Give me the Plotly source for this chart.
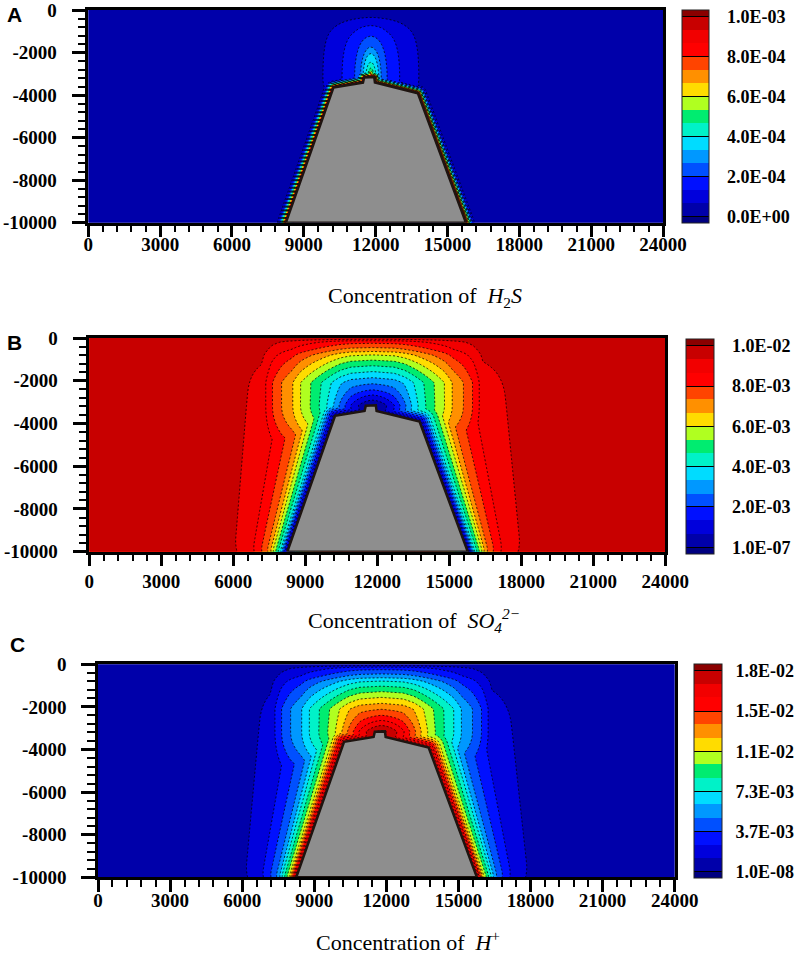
import numpy as np
import plotly.graph_objects as go

# ------------------------------------------------------------------ data
x_tick_vals = [0, 3000, 6000, 9000, 12000, 15000, 18000, 21000, 24000]
x_tick_text = ["0", "3000", "6000", "9000", "12000", "15000", "18000", "21000", "24000"]
x_minor_vals = [v for v in range(0, 24001, 600) if v % 3000 != 0]
y_tick_vals = [0, -2000, -4000, -6000, -8000, -10000]
y_tick_text = ["0", "-2000", "-4000", "-6000", "-8000", "-10000"]
y_minor_vals = [v for v in range(-10000, 1, 400) if v % 2000 != 0]

# mound outline (bottom-left -> crest -> bottom-right), metres
mound_x = [8250, 10240, 11470, 11520, 11940, 11970, 13760, 15770]
mound_y = [-10000, -3640, -3410, -3170, -3150, -3410, -3910, -10000]

# transect along the base (y=-10000): distance from flank (m) vs relative change
base_dist = [0, 140, 280, 415, 580, 720, 900, 1180, 1520, 2000, 2880, 4320]
base_frac = [1.0, 0.8, 0.6, 0.5, 0.4, 0.3, 0.23, 0.17, 0.1, 0.067, 0.02, 0.0]

# vertical transect above the crest (x ~ 11800): depth (m) vs relative change
crest_y = [-3150, -2430, -1580, -1170, -800, -560, -170, 0]
crest_frac = [1.0, 0.8, 0.6, 0.5, 0.4, 0.3, 0.17, 0.0]

# horizontal transect at y=-2000: offset from crest axis (m) vs share of axis value
lat_dx = [0, 900, 1340, 1760, 2170, 2590, 3000, 3350, 3770, 4180, 4710, 5500]
lat_frac = [1.0, 0.97, 0.91, 0.82, 0.73, 0.64, 0.55, 0.45, 0.37, 0.27, 0.09, 0.0]

# H2S: thin rim along the flanks (distance m vs fraction of max)
rim_dist = [0, 70, 140, 210, 280, 350, 420]
rim_frac = [1.0, 0.75, 0.5, 0.3, 0.15, 0.06, 0.0]

# H2S: plume above the crest (scaled radius m vs fraction of max)
plume_r = [0, 30, 60, 90, 130, 200, 300, 400, 550, 700, 900, 1200, 1600, 2000, 2600, 3400]
plume_frac = [1.0, 0.78, 0.6, 0.5, 0.44, 0.39, 0.34, 0.27, 0.22, 0.19, 0.16, 0.13, 0.095, 0.065, 0.03, 0.0]
crest_center_x = 11800

# colour levels (min, max) and colour-bar labels
range_A = (0.0, 1.0e-3)
range_B = (1.0e-7, 1.0e-2)
range_C = (1.0e-8, 1.83e-2)
cb_text_A = ["0.0E+00", "2.0E-04", "4.0E-04", "6.0E-04", "8.0E-04", "1.0E-03"]
cb_text_B = ["1.0E-07", "2.0E-03", "4.0E-03", "6.0E-03", "8.0E-03", "1.0E-02"]
cb_text_C = ["1.0E-08", "3.7E-03", "7.3E-03", "1.1E-02", "1.5E-02", "1.8E-02"]

band_colors = ["#000080", "#0000AA", "#0000DC", "#0010FF", "#0050FF", "#0098FF",
               "#00DCFF", "#00F2C8", "#00EC70", "#B0FF20", "#FFDC00", "#FF9000",
               "#FF4400", "#FF0000", "#F20000", "#C80000", "#8A0000"]

# ------------------------------------------------------------------ field
gx = np.arange(0, 24001, 50, dtype=float)
gy = np.arange(-10000, 1, 50, dtype=float)
X, Y = np.meshgrid(gx, gy)


def min_dist(px, py, vx, vy):
    d = np.full(px.shape, np.inf)
    for i in range(len(vx) - 1):
        ax, ay, bx, by = vx[i], vy[i], vx[i + 1], vy[i + 1]
        ex, ey = bx - ax, by - ay
        t = np.clip(((px - ax) * ex + (py - ay) * ey) / (ex * ex + ey * ey), 0, 1)
        d = np.minimum(d, np.hypot(px - (ax + t * ex), py - (ay + t * ey)))
    return d


mx, my = np.array(mound_x, float), np.array(mound_y, float)
y_top = my.max()
d_true = min_dist(X, Y, mx, my)
dxc = np.abs(X - crest_center_x)

# SO4 / H+ : flank band widening upwards + arch above the crest
L0, KL, LT = 720.0, 0.079, 810.0
Lx = L0 + KL * (Y + 10000.0)
g_side = np.interp(d_true / Lx, np.array(base_dist) / L0, base_frac) * np.tanh(-Y / LT)
below = np.where(Y < y_top, np.exp(-((Y - y_top) / 2500.0) ** 2), 1.0)
axis_val = np.interp(Y, crest_y, crest_frac)
broad = np.minimum(axis_val, 0.72)
narrow = axis_val - broad
g_arch = (broad * np.interp(dxc, lat_dx, lat_frac)
          + narrow * np.exp(-0.5 * (dxc / 900.0) ** 2)) * below
g_bc = np.maximum(g_side, g_arch)

zB = np.maximum(0.995e-2 * (1 - g_bc), range_B[0] + 1e-6)
zC = range_C[0] + 1e-6 + 1.85e-2 * g_bc

# H2S : thin rim + plume over the crest
g_rim = np.interp(d_true, rim_dist, rim_frac)
v = Y - y_top
av = np.where(v > 0, 3.5, 1.0)
r = np.hypot(dxc, v / av)
g_pl = np.interp(r, plume_r, plume_frac) * np.tanh(-Y / 900.0)
zA = 1e-8 + 1.03e-3 * np.maximum(g_rim, g_pl)

# ------------------------------------------------------------------ figure
W, H = 796, 956
n = len(band_colors) - 1
cscale = [[k / n, c] for k, c in enumerate(band_colors)]

panels = [
    dict(z=zA, rng=range_A, txt=cb_text_A, xd=(88.3, 663.0), yd=(10.0, 222.7),
         cb=(681.7, 10.0, 213, 27), xstand=-9, gap=3),
    dict(z=zB, rng=range_B, txt=cb_text_B, xd=(89.3, 665.3), yd=(338.0, 551.7),
         cb=(686.0, 339.0, 215, 28), xstand=-1, gap=3),
    dict(z=zC, rng=range_C, txt=cb_text_C, xd=(98.0, 674.7), yd=(664.3, 877.3),
         cb=(694.0, 664.3, 214, 28), xstand=-8, gap=2),
]

fig = go.Figure()
tickfont = dict(family="Liberation Serif", size=19, color="black", weight="bold")
layout = dict(width=W, height=H, margin=dict(l=0, r=0, t=0, b=0, autoexpand=False),
              paper_bgcolor="white", plot_bgcolor="white", showlegend=False)

for i, p in enumerate(panels, start=1):
    sfx = "" if i == 1 else str(i)
    xa, ya = "x" + sfx, "y" + sfx
    start, end = p["rng"]
    size = (end - start) / 15.0
    cbx, cby, cblen, cbth = p["cb"]
    tickvals = [start + 3 * k * size for k in range(6)]
    pad = "\u00a0" * p["gap"]
    fig.add_trace(go.Contour(
        x=gx, y=gy, z=p["z"], xaxis=xa, yaxis=ya, autocontour=False,
        contours=dict(start=start, end=end, size=size, coloring="fill", showlines=False),
        colorscale=cscale, line=dict(width=0), hoverinfo="skip",
        colorbar=dict(x=cbx / W, xanchor="left", y=1 - cby / H, yanchor="top",
                      len=cblen, lenmode="pixels", thickness=cbth, thicknessmode="pixels",
                      xpad=0, ypad=0, outlinewidth=1, outlinecolor="#222222",
                      tickmode="array", tickvals=tickvals, ticktext=[pad + t for t in p["txt"]],
                      ticks="inside", ticklen=cbth, tickwidth=1.2, tickcolor="black",
                      tickfont=dict(family="Liberation Serif", size=18, color="black", weight="bold"))))
    fig.add_trace(go.Contour(
        x=gx, y=gy, z=p["z"], xaxis=xa, yaxis=ya, autocontour=False,
        contours=dict(start=start, end=end, size=size, coloring="none", showlines=True),
        line=dict(color="black", width=0.8, dash="2px,2px"), showscale=False, hoverinfo="skip"))
    fig.add_trace(go.Scatter(
        x=mound_x + [mound_x[0]], y=mound_y + [mound_y[0]], xaxis=xa, yaxis=ya,
        mode="lines", fill="toself", fillcolor="#8E8E8E",
        line=dict(color="#1E1410", width=2.5), hoverinfo="skip"))

    x0, x1 = p["xd"]
    y0, y1 = p["yd"]
    layout["xaxis" + sfx] = dict(
        domain=[x0 / W, x1 / W], anchor=ya, range=[0, 24000], automargin=False,
        showline=True, linecolor="black", linewidth=2.5, mirror=True,
        showgrid=False, zeroline=False, ticks="outside", ticklen=12, tickwidth=2.5,
        tickcolor="black", tickmode="array", tickvals=x_tick_vals, ticktext=x_tick_text,
        tickfont=tickfont, ticklabelstandoff=p["xstand"], ticklabeloverflow="allow",
        minor=dict(tickmode="array", tickvals=x_minor_vals, ticks="outside", ticklen=7,
                   tickwidth=1.5, tickcolor="black", showgrid=False))
    layout["yaxis" + sfx] = dict(
        domain=[1 - y1 / H, 1 - y0 / H], anchor=xa, range=[-10000, 0], automargin=False,
        showline=True, linecolor="black", linewidth=2.5, mirror=True,
        showgrid=False, zeroline=False, ticks="outside", ticklen=14, tickwidth=2.5,
        tickcolor="black", tickmode="array", tickvals=y_tick_vals, ticktext=y_tick_text,
        tickfont=tickfont, ticklabelstandoff=11, ticklabeloverflow="allow",
        minor=dict(tickmode="array", tickvals=y_minor_vals, ticks="outside", ticklen=8,
                   tickwidth=1.5, tickcolor="black", showgrid=False))

titles = [
    ("Concentration of  <i>H</i><sub>2</sub><i>S</i>", 425, 297),
    ("Concentration of  <i>SO</i><sub><i>4</i></sub><sup><i>2−</i></sup>", 414, 620),
    ("Concentration of  <i>H</i><sup>+</sup>", 408, 941),
]
ann = []
for txt, xp, yp in titles:
    ann.append(dict(text=txt, x=xp / W, y=1 - yp / H, xref="paper", yref="paper",
                    xanchor="center", yanchor="middle", showarrow=False,
                    font=dict(family="Liberation Serif", size=22, color="black")))
for lab, xp, yp in [("A", 15, 14.5), ("B", 15, 343), ("C", 17, 644.5)]:
    ann.append(dict(text=lab, x=xp / W, y=1 - yp / H, xref="paper", yref="paper",
                    xanchor="center", yanchor="middle", showarrow=False,
                    font=dict(family="Liberation Sans", size=21, color="black", weight="bold")))
layout["annotations"] = ann
fig.update_layout(**layout)
fig.write_html("out.html", config={"displayModeBar": False},
               post_script="document.body.style.margin='0px';document.body.style.overflow='hidden';")
